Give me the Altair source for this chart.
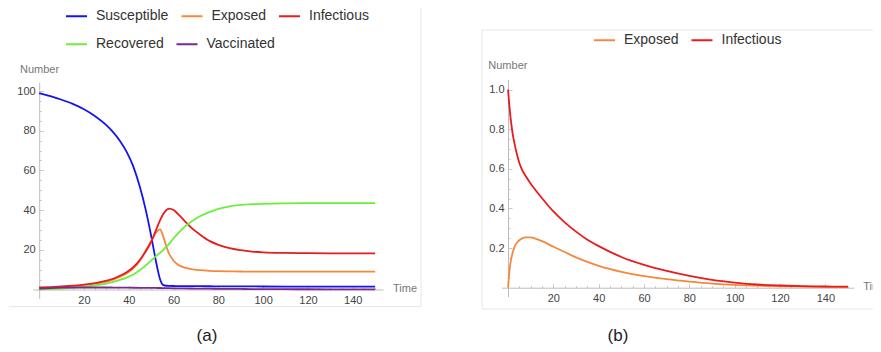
import altair as alt
import pandas as pd

# ---------------- data ----------------
t_a = [0, 5, 10, 15, 20, 25, 30, 33, 36, 39, 42, 45, 47.5, 50, 52, 53, 54, 55, 56, 58, 60, 62,
       65, 68, 72, 76, 80, 85, 90, 95, 100, 110, 120, 130, 140, 150]
susceptible = [99, 97.4, 95.6, 93.5, 90.8, 87.3, 82.8, 79.3, 75, 69.5, 62, 51.5, 40.5, 27, 15,
               9.5, 5, 2.6, 2.0, 1.8, 1.75, 1.72, 1.7, 1.68, 1.65, 1.62, 1.6, 1.57, 1.55, 1.52,
               1.5, 1.47, 1.45, 1.43, 1.42, 1.4]
exposed_a = [0, 0.7, 1.2, 1.6, 2.1, 2.9, 4.0, 5.0, 6.3, 8.0, 10.6, 14.5, 19.5, 24.5, 28.3, 29.6,
             30.3, 28, 24.5, 18, 14.5, 12.5, 11, 10.2, 9.7, 9.4, 9.2, 9.1, 9.05, 9.0, 9.0, 9.0,
             9.0, 9.0, 9.0, 9.0]
infectious_a = [1.0, 1.2, 1.5, 1.9, 2.4, 3.2, 4.4, 5.4, 6.9, 8.7, 11.2, 15, 19, 24, 29.5, 32.3,
                35, 37.3, 39, 40.7, 40, 38, 34.5, 31, 27.5, 24.5, 22.5, 20.8, 19.8, 19.1, 18.7,
                18.4, 18.3, 18.2, 18.2, 18.2]
recovered = [0, 0.2, 0.5, 0.9, 1.4, 2.1, 3.0, 3.8, 4.8, 6.0, 7.5, 9.8, 12, 14.5, 16.7, 17.6,
             18.5, 19.5, 20.7, 23, 25.8, 28.3, 31.7, 34.3, 37, 39, 40.6, 41.9, 42.6, 43, 43.2,
             43.4, 43.5, 43.5, 43.5, 43.5]
vaccinated = [0.5, 0.7, 0.9, 1.0, 1.0, 1.0, 1.0, 0.97, 0.93, 0.9, 0.87, 0.85, 0.82, 0.8, 0.77,
              0.75, 0.73, 0.7, 0.68, 0.65, 0.6, 0.57, 0.52, 0.48, 0.43, 0.38, 0.35, 0.3, 0.26,
              0.22, 0.2, 0.15, 0.1, 0.08, 0.06, 0.05]

t_b = [0, 0.5, 1, 2, 3, 4, 5, 6, 8, 10, 12, 15, 20, 25, 30, 35, 40, 50, 60, 70, 80, 90, 100,
       110, 120, 130, 140, 150]
exposed_b = [0, 0.07, 0.12, 0.175, 0.21, 0.228, 0.24, 0.248, 0.254, 0.254, 0.248, 0.235, 0.207,
             0.18, 0.153, 0.13, 0.11, 0.08, 0.058, 0.043, 0.031, 0.021, 0.014, 0.01, 0.007,
             0.005, 0.004, 0.003]
infectious_b = [1.0, 0.93, 0.87, 0.78, 0.72, 0.67, 0.63, 0.6, 0.56, 0.525, 0.495, 0.452, 0.385,
                0.33, 0.283, 0.242, 0.21, 0.155, 0.115, 0.085, 0.06, 0.04, 0.026, 0.016, 0.011,
                0.008, 0.006, 0.005]

names_a1 = ["Susceptible", "Exposed", "Infectious"]
colors_a1 = ["#1414f0", "#f5883c", "#e81c1c"]
names_a2 = ["Recovered", "Vaccinated"]
colors_a2 = ["#6cee3c", "#7a2a8c"]
names_b = ["Exposed", "Infectious"]
colors_b = ["#f5883c", "#e81c1c"]

x_ticks = [20, 40, 60, 80, 100, 120, 140]
y_ticks_a = [20, 40, 60, 80, 100]
y_ticks_b = [0.2, 0.4, 0.6, 0.8, 1.0]
x_minor = list(range(5, 151, 5))
y_minor_a = list(range(5, 101, 5))
y_minor_b = [round(0.05 * k, 2) for k in range(1, 21)]


def long_df(t, cols):
    rows = []
    for name, vals in cols:
        for ti, v in zip(t, vals):
            rows.append({"t": ti, "value": v, "series": name})
    return pd.DataFrame(rows)


df_a1 = long_df(t_a, list(zip(names_a1, [susceptible, exposed_a, infectious_a])))
df_a2 = long_df(t_a, list(zip(names_a2, [recovered, vaccinated])))
df_b = long_df(t_b, list(zip(names_b, [exposed_b, infectious_b])))

# ---------------- layout ----------------
W, H = 865, 336
FONT = "Liberation Sans"
AXIS_GRAY = "#bdbdbd"
TICK_GRAY = "#c8c8c8"
FRAME = "#e6e6e6"

xa = alt.Scale(domain=[-2.8, 153.5], range=[24.9, 375.0], nice=False, zero=False)
ya = alt.Scale(domain=[-4.5, 104.5], range=[290.4, 74.1], nice=False, zero=False)
xb = alt.Scale(domain=[-2.8, 152.5], range=[493.7, 845.7], nice=False, zero=False)
yb = alt.Scale(domain=[-0.045, 1.052], range=[288.6, 71.4], nice=False, zero=False)

lab = dict(grid=False, ticks=False, tickSize=0, domainColor=AXIS_GRAY, domainWidth=1,
           labelFont=FONT, labelFontSize=11, labelColor="#444444", title=None,
           labelFlush=False, labelOverlap=False)


def tick_axis(orient, offset, values, test):
    return alt.Axis(orient=orient, offset=offset, values=values, labels=False, domain=False,
                    grid=False, ticks=True, tickColor=TICK_GRAY, tickWidth=1,
                    tickSize={"condition": {"test": test, "value": 4}, "value": 2}, title=None)


def legend(x, y):
    return alt.Legend(title=None, orient="none", legendX=x, legendY=y, direction="horizontal",
                      symbolType="stroke", symbolSize=441, symbolStrokeWidth=2,
                      labelFont=FONT, labelFontSize=14, labelColor="#333333", labelOffset=8,
                      columnPadding=8.5, padding=0)


lines_a1 = alt.Chart(df_a1).mark_line(strokeWidth=1.8, interpolate="monotone").encode(
    x=alt.X("t:Q", scale=xa, axis=alt.Axis(orient="bottom", offset=-54.5, values=x_ticks,
                                           labelPadding=5, **lab)),
    y=alt.Y("value:Q", scale=ya, axis=alt.Axis(orient="left", offset=-31.2, values=y_ticks_a,
                                               labelPadding=4, **lab)),
    color=alt.Color("series:N", scale=alt.Scale(domain=names_a1, range=colors_a1),
                    legend=legend(57, -3.5)),
)

lines_a2 = alt.Chart(df_a2).mark_line(strokeWidth=1.8, interpolate="monotone").encode(
    x=alt.X("t:Q", scale=xa, axis=None),
    y=alt.Y("value:Q", scale=ya, axis=None),
    color=alt.Color("series:N", scale=alt.Scale(domain=names_a2, range=colors_a2),
                    legend=legend(57, 24.5)),
)

ticks_a = alt.Chart(df_a1).mark_line(opacity=0).encode(
    x=alt.X("t:Q", scale=xa, axis=tick_axis("top", -281.5, x_minor, "datum.value % 20 === 0")),
    y=alt.Y("value:Q", scale=ya, axis=tick_axis("right", 31.2 - W, y_minor_a, "datum.value % 20 === 0")),
    detail="series:N",
)

lines_b = alt.Chart(df_b).mark_line(strokeWidth=1.8, interpolate="monotone").encode(
    x=alt.X("t:Q", scale=xb, axis=alt.Axis(orient="bottom", offset=-56.3, values=x_ticks,
                                           labelPadding=5, **lab)),
    y=alt.Y("value:Q", scale=yb, axis=alt.Axis(orient="left", offset=-500, values=y_ticks_b,
                                               labelPadding=4, format=".1f", **lab)),
    color=alt.Color("series:N", scale=alt.Scale(domain=names_b, range=colors_b),
                    legend=legend(585, 20.5)),
)

ticks_b = alt.Chart(df_b).mark_line(opacity=0).encode(
    x=alt.X("t:Q", scale=xb, axis=tick_axis("top", -279.7, x_minor, "datum.value % 20 === 0")),
    y=alt.Y("value:Q", scale=yb, axis=tick_axis("right", 500 - W, y_minor_b,
                                                "round(datum.value * 100) % 20 === 0")),
    detail="series:N",
)

one = alt.Data(values=[{}])


def text(s, x, y, size, color, align="left"):
    return alt.Chart(one).mark_text(text=s, align=align, baseline="middle", font=FONT,
                                    fontSize=size, color=color).encode(
        x=alt.value(x), y=alt.value(y))


def rule(x, x2, y, y2):
    return alt.Chart(one).mark_rule(color=FRAME, strokeWidth=1).encode(
        x=alt.value(x), x2=alt.value(x2), y=alt.value(y), y2=alt.value(y2))


frames = [
    rule(1, 413, 298.7, 298.7), rule(413, 413, -1, 298.7),
    rule(474, 880, 22, 22), rule(474, 474, 22, 301), rule(474, 880, 301, 301),
]
texts = [
    text("Number", 12, 62, 11, "#777777"),
    text("Time", 385, 281.3, 11, "#777777"),
    text("Number", 480.3, 57.7, 11, "#777777"),
    text("Time", 855.3, 278.7, 11, "#777777"),
    text("(a)", 199, 327.5, 17, "#222222", "center"),
    text("(b)", 610, 327.5, 17, "#222222", "center"),
]

chart = alt.layer(
    *frames, ticks_a, ticks_b, lines_a1, lines_a2, lines_b, *texts
).resolve_scale(
    x="independent", y="independent", color="independent"
).properties(
    width=W, height=H, padding=0, autosize=alt.AutoSizeParams(type="none")
).configure_view(stroke="transparent")

chart.save("out.html", embed_options={"renderer": "svg", "actions": False})
